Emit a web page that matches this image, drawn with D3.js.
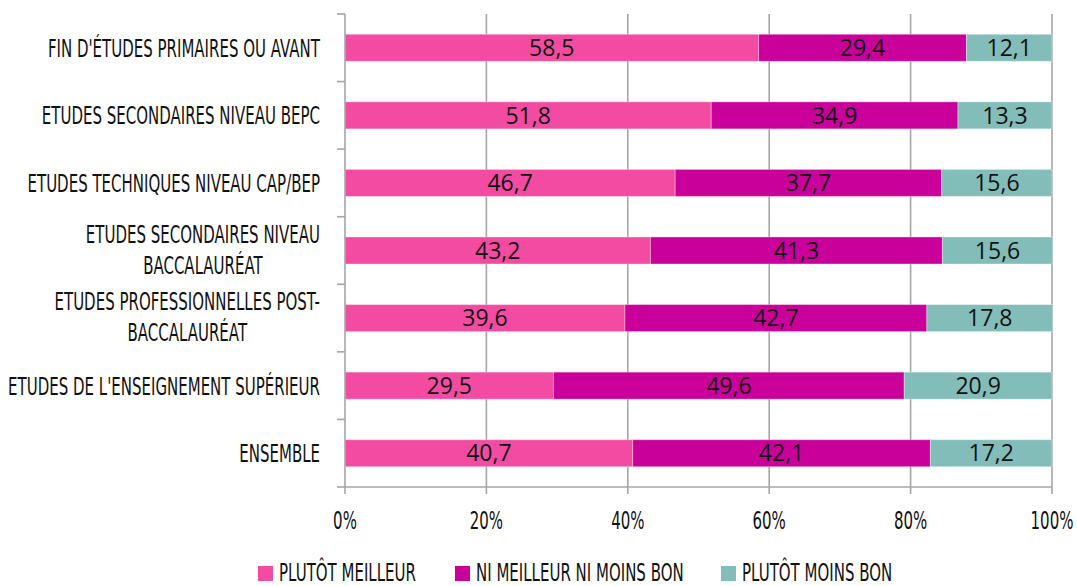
<!DOCTYPE html>
<html>
<head>
<meta charset="utf-8">
<script src="https://cdn.jsdelivr.net/npm/d3@7"></script>
<style>
  body { margin: 0; background: #fff; }
</style>
</head>
<body>
<div id="chart"></div>
<script>
var width = 1077, height = 586;

var categories = [
  ["FIN D'ÉTUDES PRIMAIRES OU AVANT"],
  ["ETUDES SECONDAIRES NIVEAU BEPC"],
  ["ETUDES TECHNIQUES NIVEAU CAP/BEP"],
  ["ETUDES SECONDAIRES NIVEAU", "BACCALAURÉAT"],
  ["ETUDES PROFESSIONNELLES POST-", "BACCALAURÉAT"],
  ["ETUDES DE L'ENSEIGNEMENT SUPÉRIEUR"],
  ["ENSEMBLE"]
];
var meilleur = [58.5, 51.8, 46.7, 43.2, 39.6, 29.5, 40.7];
var niNi = [29.4, 34.9, 37.7, 41.3, 42.7, 49.6, 42.1];
var moinsBon = [12.1, 13.3, 15.6, 15.6, 17.8, 20.9, 17.2];
var seriesNames = ["PLUTÔT MEILLEUR", "NI MEILLEUR NI MOINS BON", "PLUTÔT MOINS BON"];
var colors = ["#f34ba1", "#c9009a", "#83bdb9"];
var ticks = [0, 20, 40, 60, 80, 100];

var margin = {left: 345, right: 25, top: 14, bottom: 99};
var condFont = "'DejaVu Sans', sans-serif";
var condSize = 25;
var squeeze = 0.60;   // fake a condensed face

var svg = d3.select("#chart").append("svg")
  .attr("width", width)
  .attr("height", height);

var x = d3.scaleLinear().domain([0, 100]).range([margin.left, width - margin.right]);
var y = d3.scaleBand().domain(d3.range(categories.length))
  .range([margin.top, height - margin.bottom]).paddingInner(0.6).paddingOuter(0.3);
var bottom = height - margin.bottom;

// condensed text at (px, py)
function condText(parent, px, py, anchor, txt) {
  var g = parent.append("g").attr("transform", "translate(" + px + "," + py + ") scale(" + squeeze + ",1)");
  g.append("text")
    .attr("font-family", condFont).attr("font-size", condSize)
    .attr("text-anchor", anchor).attr("fill", "#111")
    .text(txt);
  return g;
}

// gridlines
svg.append("g").selectAll("line").data(ticks.slice(1)).enter().append("line")
  .attr("x1", function (d) { return x(d) }).attr("x2", function (d) { return x(d) })
  .attr("y1", margin.top).attr("y2", bottom)
  .attr("stroke", "#a6a6a6").attr("stroke-width", 1.6);

var rows = categories.map(function (c, i) {
  return [meilleur[i], niNi[i], moinsBon[i]];
});

var segs = [];
rows.forEach(function (r, i) {
  var acc = 0;
  r.forEach(function (v, j) {
    segs.push({row: i, s: j, x0: acc, x1: acc + v, v: v});
    acc += v;
  });
});

svg.append("g").selectAll("rect").data(segs).enter().append("rect")
  .attr("x", function (d) { return x(d.x0) })
  .attr("width", function (d) { return x(d.x1) - x(d.x0) })
  .attr("y", function (d) { return y(d.row) })
  .attr("height", y.bandwidth())
  .attr("fill", function (d) { return colors[d.s] })
  .attr("stroke", "rgba(255,255,255,0.35)").attr("stroke-width", 1);

svg.append("g").selectAll("text").data(segs).enter().append("text")
  .attr("x", function (d) { return (x(d.x0) + x(d.x1)) / 2 })
  .attr("y", function (d) { return y(d.row) + y.bandwidth() / 2 })
  .attr("dy", "0.36em")
  .attr("text-anchor", "middle")
  .attr("font-family", "'Open Sans', 'Noto Sans', sans-serif")
  .attr("font-size", 23)
  .attr("fill", "#111")
  .text(function (d) { return d3.format(".1f")(d.v).replace(".", ",") });

// y axis
svg.append("line").attr("x1", margin.left).attr("x2", margin.left)
  .attr("y1", margin.top).attr("y2", bottom).attr("stroke", "#a6a6a6").attr("stroke-width", 1.6);
var step = (bottom - margin.top) / categories.length;
svg.append("g").selectAll("line").data(d3.range(categories.length + 1)).enter().append("line")
  .attr("x1", margin.left - 8).attr("x2", margin.left)
  .attr("y1", function (d) { return margin.top + d * step })
  .attr("y2", function (d) { return margin.top + d * step })
  .attr("stroke", "#a6a6a6").attr("stroke-width", 1.6);

// x axis
svg.append("line").attr("x1", x(0)).attr("x2", x(100))
  .attr("y1", bottom).attr("y2", bottom).attr("stroke", "#a6a6a6").attr("stroke-width", 1.6);
svg.append("g").selectAll("line").data(ticks).enter().append("line")
  .attr("x1", function (d) { return x(d) }).attr("x2", function (d) { return x(d) })
  .attr("y1", bottom).attr("y2", bottom + 7)
  .attr("stroke", "#a6a6a6").attr("stroke-width", 1.6);
var tickG = svg.append("g");
ticks.forEach(function (t) {
  condText(tickG, x(t), 529, "middle", t + "%");
});

// category labels: block right aligned, lines centred on each other
var labG = svg.append("g");
categories.forEach(function (lines, i) {
  var yc = y(i) + y.bandwidth() / 2;
  var g = labG.append("g")
    .attr("transform", "translate(" + (margin.left - 25) + "," + yc + ") scale(" + squeeze + ",1)");
  var texts = lines.map(function (l, k) {
    return g.append("text")
      .attr("font-family", condFont).attr("font-size", condSize)
      .attr("text-anchor", "middle").attr("fill", "#111")
      .attr("y", lines.length === 1 ? 9 : (k === 0 ? -8 : 23))
      .text(l);
  });
  var maxW = d3.max(texts, function (t) { return t.node().getComputedTextLength() });
  texts.forEach(function (t) { t.attr("x", -maxW / 2) });
});

// legend
var legX = [258, 455, 721];
var legG = svg.append("g");
seriesNames.forEach(function (name, i) {
  legG.append("rect").attr("x", legX[i]).attr("y", 566).attr("width", 15).attr("height", 15)
    .attr("fill", colors[i]);
  condText(legG, legX[i] + 21, 581, "start", name);
});
</script>
</body>
</html>
